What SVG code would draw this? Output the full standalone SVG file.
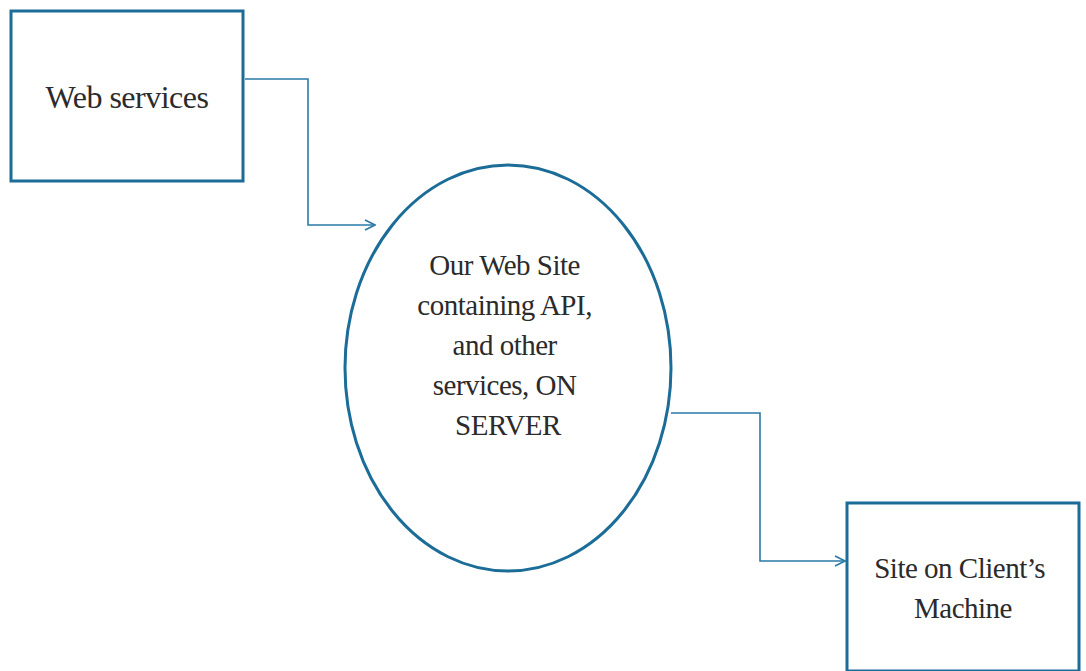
<svg xmlns="http://www.w3.org/2000/svg" width="1086" height="671" viewBox="0 0 1086 671">
<defs>
<style>
.box{fill:#fff;stroke:#1b6d98;stroke-width:3}
.conn{fill:none;stroke:#2a7aa8;stroke-width:1.6}
.t{font-family:"Liberation Serif","DejaVu Serif",serif;fill:#2b2b2b;text-anchor:middle;letter-spacing:-0.5px}
</style>
<marker id="arr" viewBox="0 0 12 12" refX="11" refY="6" markerWidth="12" markerHeight="12" markerUnits="userSpaceOnUse" orient="auto">
<path d="M1,1 L11,6 L1,11" fill="none" stroke="#2a7aa8" stroke-width="1.6"/>
</marker>
</defs>
<rect width="1086" height="671" fill="#fff"/>
<g id="connectors">
<path class="conn" d="M245,79 H308 V225 H375" marker-end="url(#arr)"/>
<path class="conn" d="M671,413 H760 V561 H845" marker-end="url(#arr)"/>
</g>
<g id="web-services">
<rect class="box" x="11" y="11" width="232" height="170"/>
<text class="t" x="127" y="108" font-size="32">Web services</text>
</g>
<g id="our-web-site">
<ellipse class="box" cx="508" cy="368" rx="163" ry="203"/>
<text class="t" font-size="29">
<tspan x="508" y="275">Our Web Site</tspan>
<tspan x="508" y="315">containing API,</tspan>
<tspan x="508" y="355">and other</tspan>
<tspan x="508" y="395">services, ON</tspan>
<tspan x="508" y="435">SERVER</tspan>
</text>
</g>
<g id="client-site">
<rect class="box" x="847" y="503" width="232" height="168"/>
<text class="t" font-size="29">
<tspan x="963" y="578">Site on Client’s</tspan>
<tspan x="963" y="618">Machine</tspan>
</text>
</g>
</svg>
